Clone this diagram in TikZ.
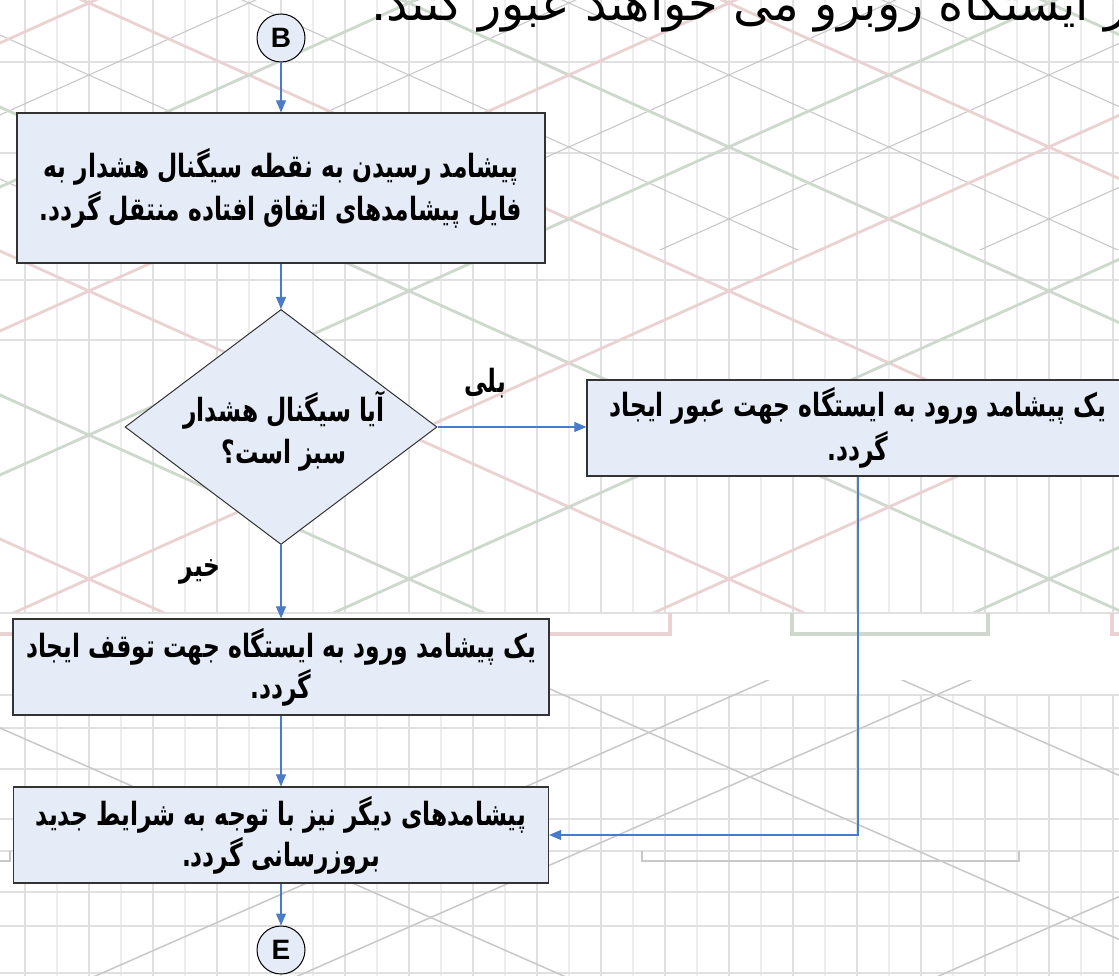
\documentclass[tikz,border=0pt]{standalone}
\usepackage{fontspec}
\setmainfont{Liberation Sans}
\newfontfamily\fa[Script=Arabic]{DejaVu Sans}
\TeXXeTstate=1
\usetikzlibrary{shapes.geometric,arrows.meta}
\definecolor{boxfill}{HTML}{E6ECF7}
\definecolor{boxline}{HTML}{333333}
\definecolor{arrowblue}{HTML}{4A7BC8}
\definecolor{gridA}{HTML}{EDEDED}
\definecolor{gridB}{HTML}{E0E0E0}
\definecolor{pinkline}{HTML}{EAD2D2}
\definecolor{greenline}{HTML}{CED8CD}
\definecolor{greyline}{HTML}{C8C8C8}
\newcommand{\rtlline}[1]{\scalebox{0.73}[1]{\beginR #1\endR}}
\begin{document}
\begin{tikzpicture}[x=1pt,y=-1pt,
  box/.style={draw=boxline, fill=boxfill, line width=1.3pt, inner sep=0pt, align=center,
    font=\fa\bfseries\fontsize{32}{41}\selectfont},
  decision/.style={diamond, draw=boxline, fill=boxfill, line width=1pt, inner sep=0pt},
  conn/.style={circle, draw=black, fill=boxfill, line width=1pt, minimum size=48pt, inner sep=0pt,
    font=\bfseries\fontsize{28}{28}\selectfont},
  arr/.style={draw=arrowblue, line width=1.1pt, -{Triangle[length=12pt,width=10pt]}},
  lbl/.style={font=\fa\bfseries\fontsize{32}{32}\selectfont, inner sep=0pt},
  vgridA/.style={draw=gridA, line width=2.5pt},
  vgridB/.style={draw=gridB, line width=2.5pt},
  hgrid/.style={draw=gridB, line width=2pt},
  pinkd/.style={draw=pinkline, line width=2.8pt},
  greend/.style={draw=greenline, line width=2.8pt},
  greyd/.style={draw=greyline, line width=1.1pt},
  track/.style={line width=3.5pt}
]
\useasboundingbox (0,0) rectangle (1119,976);
\fill[white] (0,0) rectangle (1119,976);

% ---------- background: upper band ----------
\begin{scope}
  \clip (0,0) rectangle (1119,613);
  \foreach \i in {0,...,34} {
    \pgfmathsetmacro{\xx}{25+32*\i}
    \ifodd\i \draw[vgridA] (\xx,0) -- (\xx,613); \else \draw[vgridB] (\xx,0) -- (\xx,613); \fi
  }
  \foreach \yy in {62,153,280,340} { \draw[hgrid] (0,\yy) -- (1119,\yy); }
  % thin grey diagonals near the top
  \begin{scope}
    \clip (0,0) rectangle (1119,250);
    \foreach \c in {-397,-253,-109,35,179} { \draw[greyd] (-50,{\c-22.5}) -- (1170,{\c+526.5}); }
    \foreach \d in {115,259,403,547,691,835,979} { \draw[greyd] (-50,{\d+22.5}) -- (1170,{\d-526.5}); }
  \end{scope}
  % coloured diagonals: y = 0.45x + c  and  y = -0.45x + d
  \foreach \c in {539,251,-37,-325} { \draw[pinkd] (-50,{\c-22.5}) -- (1170,{\c+526.5}); }
  \foreach \c in {395,107,-181,-469} { \draw[greend] (-50,{\c-22.5}) -- (1170,{\c+526.5}); }
  \foreach \d in {907,619,331,43} { \draw[pinkd] (-50,{\d+22.5}) -- (1170,{\d-526.5}); }
  \foreach \d in {1051,763,475,187} { \draw[greend] (-50,{\d+22.5}) -- (1170,{\d-526.5}); }
\end{scope}
\draw[hgrid] (0,613) -- (1119,613);
% track brackets
\draw[track, draw=pinkline] (-5,634) -- (670,634) -- (670,613);
\draw[track, draw=greenline] (792,613) -- (792,634) -- (988,634) -- (988,613);
\draw[track, draw=pinkline] (1112,613) -- (1112,634) -- (1125,634);

% ---------- background: lower band ----------
\begin{scope}
  \clip (0,695) rectangle (1119,976);
  \foreach \i in {0,...,34} {
    \pgfmathsetmacro{\xx}{25+32*\i}
    \ifodd\i \draw[vgridA] (\xx,695) -- (\xx,976); \else \draw[vgridB] (\xx,695) -- (\xx,976); \fi
  }
\end{scope}
\foreach \yy in {695,728,769,819,851,892,926,973} { \draw[hgrid] (0,\yy) -- (1119,\yy); }
\begin{scope}
  \clip (0,680) rectangle (1119,976);
  \foreach \c in {447,728,283} { \draw[greyd, line width=1.5pt] (-50,{\c-22}) -- (1170,{\c+514.8}); }
  \foreach \d in {1107,1389,1018} { \draw[greyd, line width=1.5pt] (-50,{\d+22}) -- (1170,{\d-514.8}); }
\end{scope}
\draw[draw=greyline, line width=2.5pt] (642,851) -- (642,861) -- (1019,861) -- (1019,851);
\draw[draw=greyline, line width=2.5pt] (-5,861) -- (10,861) -- (10,851);

% ---------- clipped title text at top ----------
\begin{scope}
  \clip (0,0) rectangle (1119,976);
  \node[anchor=base west, inner sep=0pt, font=\fa\fontsize{48}{48}\selectfont] (title) at (371,21)
    {\beginR ر ایستگاه روبرو می خواهند عبور کنند.\endR};
\end{scope}

% ---------- flowchart ----------
\node[conn] (B) at (281,38) {B};
\node[box, minimum width=528pt, minimum height=150pt, font=\fa\bfseries\fontsize{32}{43}\selectfont] (b1) at (281,188)
  {\rtlline{پیشامد رسیدن به نقطه سیگنال هشدار به}\\
   \rtlline{فایل پیشامدهای اتفاق افتاده منتقل گردد.}};
\node[decision, minimum width=312pt, minimum height=235pt] (dec) at (281,427) {};
\node[align=center, inner sep=0pt, font=\fa\bfseries\fontsize{32}{42}\selectfont] (dectext) at (284,431)
  {\rtlline{آیا سیگنال هشدار}\\ \rtlline{سبز است؟}};
\node[box, minimum width=542pt, minimum height=96pt, font=\fa\bfseries\fontsize{32}{44}\selectfont] (b2) at (858,428)
  {\rtlline{یک پیشامد ورود به ایستگاه جهت عبور ایجاد}\\ \rtlline{گردد.}};
\node[box, minimum width=536pt, minimum height=96pt] (b3) at (281,667)
  {\rtlline{یک پیشامد ورود به ایستگاه جهت توقف ایجاد}\\ \rtlline{گردد.}};
\node[box, minimum width=535pt, minimum height=96pt] (b4) at (281,835)
  {\rtlline{پیشامدهای دیگر نیز با توجه به شرایط جدید}\\ \rtlline{بروزرسانی گردد.}};
\node[conn] (E) at (281,950) {E};

\node[lbl] (yes) at (485,383) {\rtlline{بلی}};
\node[lbl] (no) at (200,572) {\rtlline{خیر}};

\draw[arr] (B) -- (b1);
\draw[arr] (b1) -- (dec);
\draw[arr] (dec.east) -- (dec.east -| b2.west);
\draw[arr] (dec) -- (b3);
\draw[arr] (b3) -- (b4);
\draw[arr] (b2.south) |- (b4.east);
\draw[arr] (b4) -- (E);
\end{tikzpicture}
\end{document}
